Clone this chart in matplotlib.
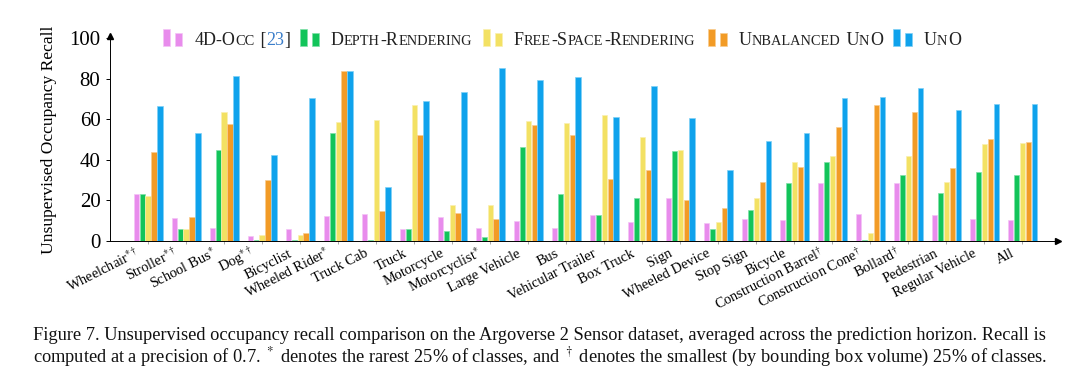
import numpy as np
import matplotlib
matplotlib.use("Agg")
import matplotlib.pyplot as plt
import matplotlib.transforms as mtrans

plt.rcParams["font.family"] = ["Liberation Serif", "DejaVu Serif"]
plt.rcParams["mathtext.fontset"] = "stix"

classes = [
    r"Wheelchair$^{*\dagger}$", r"Stroller$^{*\dagger}$", r"School Bus$^{*}$",
    r"Dog$^{*\dagger}$", "Bicyclist", r"Wheeled Rider$^{*}$", "Truck Cab",
    "Truck", "Motorcycle", r"Motorcyclist$^{*}$", "Large Vehicle", "Bus",
    "Vehicular Trailer", "Box Truck", "Sign", "Wheeled Device", "Stop Sign",
    "Bicycle", r"Construction Barrel$^{\dagger}$", r"Construction Cone$^{\dagger}$",
    r"Bollard$^{\dagger}$", "Pedestrian", "Regular Vehicle", "All",
]

occ4d = [23.2, 11.2, 6.4, 2.6, 6.1, 12.2, 13.5, 5.9, 12.0, 6.2, 9.9, 6.4,
         13.0, 9.5, 21.2, 8.9, 11.0, 10.3, 28.4, 13.5, 28.7, 12.8, 11.0, 10.5]
depth = [23.2, 6.1, 45.0, 0.3, 0.3, 53.2, 0.3, 5.9, 5.1, 2.1, 46.5, 23.2,
         13.0, 21.2, 44.3, 5.9, 15.3, 28.7, 38.9, 0.3, 32.5, 23.8, 34.2, 32.5]
freespace = [22.0, 6.1, 63.7, 3.1, 3.1, 58.8, 59.6, 66.8, 17.7, 17.9, 59.1, 58.0,
             62.0, 51.2, 44.8, 9.5, 21.2, 39.1, 41.9, 3.9, 41.7, 29.2, 47.9, 48.3]
unbalanced = [43.8, 12.0, 57.8, 30.0, 3.9, 83.9, 14.9, 52.0, 14.0, 10.8, 57.1, 52.0,
              30.4, 35.1, 20.2, 16.1, 28.9, 36.5, 56.2, 67.2, 63.4, 36.1, 50.2, 48.9]
uno = [66.5, 53.4, 81.4, 42.4, 70.6, 83.9, 26.6, 69.0, 73.2, 85.0, 79.3, 80.6,
       61.1, 76.4, 60.8, 35.0, 49.4, 53.4, 70.4, 70.9, 75.5, 64.7, 67.3, 67.7]

series = [occ4d, depth, freespace, unbalanced, uno]
colors = ["#E88CEC", "#12C45A", "#F3E163", "#F29B26", "#0FA2EC"]
edges = ["#F4C4F6", "#80E0A8", "#FAF0B0", "#F8CC90", "#80D0F6"]

fig = plt.figure(figsize=(10.8, 3.72), dpi=100)
ax = fig.add_axes([0.102, 0.352, 0.878, 0.546])

x = np.arange(len(classes))
w = 0.157
for i, (vals, c, e) in enumerate(zip(series, colors, edges)):
    ax.bar(x + (i - 2) * w, vals, width=w * 0.9, color=c, edgecolor=e, linewidth=0.5, zorder=2)

ax.set_xlim(-1.0, 23.95)
ax.set_ylim(0, 100)
ax.set_yticks([0, 20, 40, 60, 80, 100])
ax.tick_params(axis="y", labelsize=15, length=3, width=0.7, direction="out", pad=4)
ax.set_xticks(x)
ax.set_xticklabels(classes, rotation=27, ha="right", va="baseline",
                   rotation_mode="anchor", fontsize=10.4)
ax.tick_params(axis="x", length=4, width=0.7, color="#AAAAAA", direction="inout", pad=0)
shift = mtrans.ScaledTranslation(-7 / 100, -12 / 100, fig.dpi_scale_trans)
for lab in ax.get_xticklabels():
    lab.set_transform(lab.get_transform() + shift)
for s in ["top", "right"]:
    ax.spines[s].set_visible(False)
ax.spines["left"].set_linewidth(0.7)
ax.spines["bottom"].set_linewidth(0.7)
ax.spines["bottom"].set_zorder(3)
ax.plot(1, 0, ">k", transform=ax.transAxes, clip_on=False, markersize=4)
ax.plot(0, 1.01, "^k", transform=ax.transAxes, clip_on=False, markersize=4)
ax.set_ylabel("Unsupervised Occupancy Recall", fontsize=12.6, labelpad=9)

# legend drawn by hand (small caps text)
fig.canvas.draw()
renderer = fig.canvas.get_renderer()


def smallcaps(xpix, ypix, s, big=13, small=10.4, color="#222222"):
    runs = []
    for ch in s:
        is_small = ch.islower()
        if runs and runs[-1][1] == is_small:
            runs[-1][0] += ch
        else:
            runs.append([ch, is_small])
    xp = xpix
    for txt, flag in runs:
        t = fig.text(xp / 1080, 1 - ypix / 372, txt.upper() if flag else txt,
                     fontsize=small if flag else big, color=color,
                     va="baseline", ha="left")
        bb = t.get_window_extent(renderer)
        xp += bb.width + (0.8 if flag else 0)
    return xp


legend_items = [
    (163, "4D-Occ", colors[0], edges[0]),
    (300, "Depth-Rendering", colors[1], edges[1]),
    (483, "Free-Space-Rendering", colors[2], edges[2]),
    (708, "Unbalanced UnO", colors[3], edges[3]),
    (893, "UnO", colors[4], edges[4]),
]
for xs, label, c, e in legend_items:
    for dx, top in [(0, 28.5), (12, 32.5)]:
        fig.patches.append(plt.Rectangle(((xs + dx) / 1080, 1 - 45.5 / 372), 7 / 1080,
                                         (45.5 - top) / 372, transform=fig.transFigure,
                                         facecolor=c, edgecolor=e, linewidth=0.5))
    if label == "4D-Occ":
        xe = smallcaps(xs + 32, 45, label + " [")
        xe = smallcaps(xe, 45, "23", color="#3A7DC9")
        smallcaps(xe, 45, "]")
    else:
        smallcaps(xs + 31, 45, label)

cap1 = ("Figure 7. Unsupervised occupancy recall comparison on the Argoverse 2 Sensor dataset, "
        "averaged across the prediction horizon. Recall is")
cap2 = (r"computed at a precision of 0.7. $^*$ denotes the rarest 25% of classes, and "
        r"$^\dagger$ denotes the smallest (by bounding box volume) 25% of classes.")
fig.text(33 / 1080, 1 - 340 / 372, cap1, fontsize=13.2, color="#111111", va="baseline")
fig.text(33 / 1080, 1 - 362 / 372, cap2, fontsize=13.2, color="#111111", va="baseline")

fig.savefig("out.png", dpi=100)
